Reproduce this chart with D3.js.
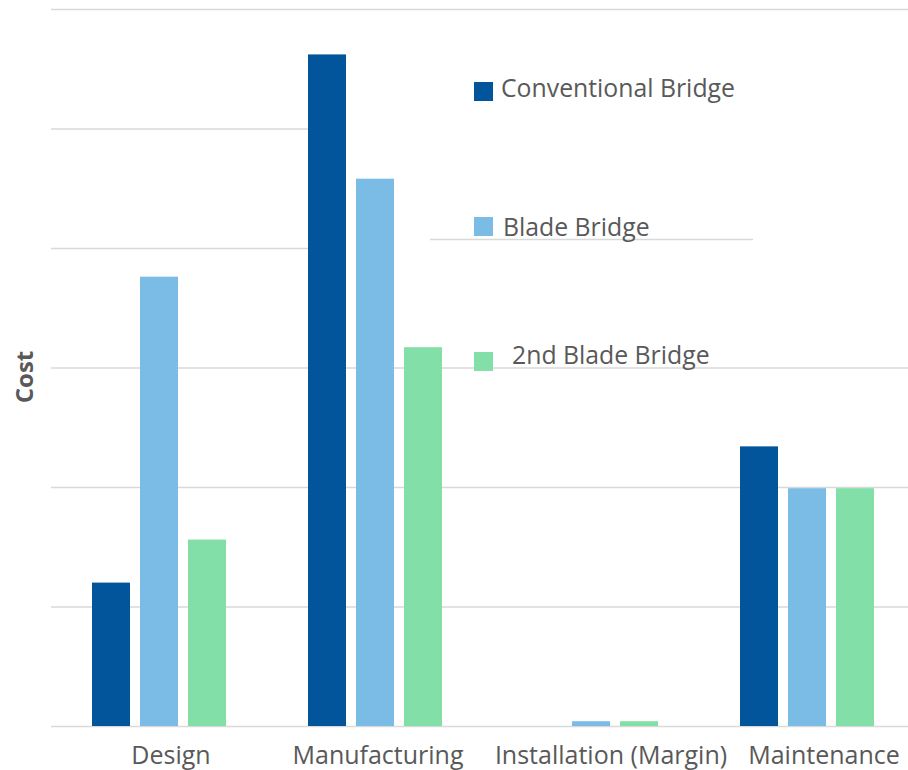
<!DOCTYPE html>
<html>
<head>
<meta charset="utf-8">
<script src="https://cdn.jsdelivr.net/npm/d3@7/dist/d3.min.js"></script>
<style>
  html, body { margin: 0; padding: 0; background: #fff; }
  svg { display: block; font-family: "Open Sans", "Noto Sans", sans-serif; }
</style>
</head>
<body>
<svg id="chart" width="908" height="770"></svg>
<script>
// Cost comparison by project phase
const categories = ["Design", "Manufacturing", "Installation (Margin)", "Maintenance"];
const seriesNames = ["Conventional Bridge", "Blade Bridge", "2nd Blade Bridge"];
const conventional = [1.20, 5.62, 0.00, 2.34];
const blade        = [3.76, 4.58, 0.04, 1.99];
const secondBlade  = [1.56, 3.17, 0.04, 1.99];
const yTicks = [0, 1, 2, 3, 4, 5, 6];

const colors = ["#02559a", "#7bbce7", "#81dfa7"];
const textColor = "#595959";
const gridColor = "#d9d9d9";

const series = [conventional, blade, secondBlade];
const rows = categories.map((c, i) => ({
  category: c,
  values: seriesNames.map((s, j) => ({ series: s, value: series[j][i] }))
}));

const svg = d3.select("#chart");
const baseY = 726, topY = 9;
const left = 51, right = 915;

const x0 = d3.scaleBand().domain(categories).range([left, right]).padding(0);
const groupW = 134;
const x1 = d3.scaleBand().domain(seriesNames)
  .range([(x0.bandwidth() - groupW) / 2, (x0.bandwidth() + groupW) / 2])
  .paddingInner(10 / 48).paddingOuter(0);
const y = d3.scaleLinear().domain([0, 6]).range([baseY, topY]);
const color = d3.scaleOrdinal().domain(seriesNames).range(colors);

// horizontal gridlines
svg.append("g")
  .attr("transform", `translate(${left},0)`)
  .call(d3.axisLeft(y).tickValues(yTicks).tickSize(-(908 - left)).tickFormat(""))
  .call(g => g.select(".domain").remove())
  .call(g => g.selectAll(".tick line").attr("stroke", gridColor).attr("stroke-width", 1.5));

// legend backdrop
const legendBox = svg.append("g");
legendBox.append("rect")
  .attr("x", 330).attr("y", 20).attr("width", 908 - 330).attr("height", 236)
  .attr("fill", "#fff");
legendBox.append("line")
  .attr("x1", 430).attr("x2", 753).attr("y1", 239.5).attr("y2", 239.5)
  .attr("stroke", gridColor).attr("stroke-width", 1.5);

// bars
svg.append("g").selectAll("g")
  .data(rows).join("g")
  .attr("transform", d => `translate(${x0(d.category)},0)`)
  .selectAll("rect")
  .data(d => d.values).join("rect")
  .attr("x", d => x1(d.series))
  .attr("width", x1.bandwidth())
  .attr("y", d => y(d.value))
  .attr("height", d => baseY - y(d.value))
  .attr("fill", d => color(d.series));

// category labels
const labelNudge = [12, 3, 20, 17];
svg.append("g").selectAll("text")
  .data(categories).join("text")
  .attr("x", (d, i) => x0(d) + x0.bandwidth() / 2 + labelNudge[i])
  .attr("y", 764)
  .attr("text-anchor", "middle")
  .attr("font-size", 25)
  .attr("fill", textColor)
  .text(d => d);

// axis title
svg.append("text")
  .attr("transform", "translate(33,377) rotate(-90)")
  .attr("text-anchor", "middle")
  .attr("font-size", 24)
  .attr("font-weight", 700)
  .attr("fill", textColor)
  .text("Cost");

// legend entries
const legendRows = [
  { y: 82, tx: 501, ty: 97 },
  { y: 217, tx: 503, ty: 236 },
  { y: 352, tx: 512, ty: 364 }
];
const legend = svg.append("g").selectAll("g")
  .data(seriesNames).join("g");
legend.append("rect")
  .attr("x", 474).attr("y", (d, i) => legendRows[i].y)
  .attr("width", 19).attr("height", 19)
  .attr("fill", d => color(d));
legend.append("text")
  .attr("x", (d, i) => legendRows[i].tx)
  .attr("y", (d, i) => legendRows[i].ty)
  .attr("font-size", 24.8)
  .attr("fill", textColor)
  .text(d => d);
</script>
</body>
</html>
